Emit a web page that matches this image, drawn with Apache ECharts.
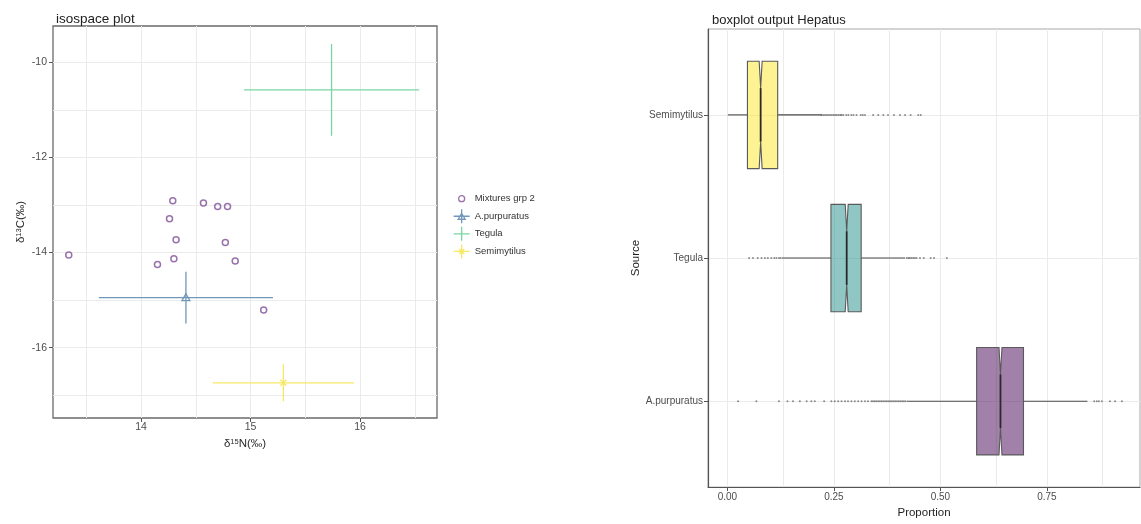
<!DOCTYPE html>
<html>
<head>
<meta charset="utf-8">
<script src="https://cdn.jsdelivr.net/npm/echarts@6/dist/echarts.min.js"></script>
<style>
  html, body { margin: 0; padding: 0; background: #fff; }
  #chart { width: 1141px; height: 524px; }
</style>
</head>
<body>
<div id="chart"></div>
<script>
// ---- isospace plot: consumer mixtures (δ15N, δ13C) ----
const mixN = [13.34, 14.29, 14.57, 14.70, 14.79, 14.26, 14.32, 14.77, 14.30, 14.15, 14.86, 15.12];
const mixC = [-14.05, -12.91, -12.96, -13.03, -13.03, -13.29, -13.73, -13.79, -14.13, -14.25, -14.18, -15.21];

// source means and standard deviations
const sourceNames = ['A.purpuratus', 'Tegula', 'Semimytilus'];
const srcMeanN = [14.41, 15.74, 15.30];
const srcSdN = [0.795, 0.80, 0.645];
const srcMeanC = [-14.95, -10.58, -16.74];
const srcSdC = [0.545, 0.965, 0.39];

// isospace axes
const isoXTicks = [14, 15, 16];
const isoXMinor = [13.5, 14.5, 15.5, 16.5];
const isoYTicks = [-16, -14, -12, -10];
const isoYMinor = [-17, -15, -13, -11];

// ---- boxplot of posterior proportions (Hepatus) ----
const boxSources = ['A.purpuratus', 'Tegula', 'Semimytilus'];
const boxLow = [0.421, 0.128, 0.001];
const boxQ1 = [0.585, 0.243, 0.047];
const boxMed = [0.641, 0.280, 0.078];
const boxQ3 = [0.695, 0.314, 0.118];
const boxHigh = [0.845, 0.417, 0.221];

const outApurpuratus = [0.025, 0.068, 0.121, 0.141, 0.154, 0.170, 0.186, 0.197, 0.205, 0.227,
  0.244, 0.252, 0.260, 0.268, 0.276, 0.283, 0.291, 0.299, 0.307, 0.315, 0.323, 0.330,
  0.338, 0.342, 0.346, 0.350, 0.354, 0.358, 0.362, 0.366, 0.370, 0.374, 0.378, 0.382,
  0.386, 0.390, 0.394, 0.398, 0.402, 0.406, 0.410, 0.414, 0.418,
  0.861, 0.867, 0.872, 0.879, 0.898, 0.910, 0.926];
const outTegula = [0.051, 0.060, 0.071, 0.080, 0.088, 0.095, 0.103, 0.110, 0.115, 0.121, 0.125,
  0.421, 0.425, 0.428, 0.432, 0.436, 0.440, 0.444, 0.452, 0.461, 0.477, 0.485, 0.515];
const outSemimytilus = [0.221, 0.225, 0.229, 0.233, 0.237, 0.241, 0.245, 0.249, 0.253, 0.257,
  0.261, 0.265, 0.268, 0.272, 0.279, 0.284, 0.291, 0.296, 0.303, 0.313, 0.318, 0.323,
  0.342, 0.354, 0.366, 0.377, 0.391, 0.405, 0.417, 0.430, 0.448, 0.454];

const propTicks = [0, 0.25, 0.5, 0.75];
const propMinor = [0.125, 0.375, 0.625, 0.875];

// ---- styling ----
const FONT = 'Liberation Sans, Arial, sans-serif';
const mixColor = '#7e5096';
const srcColors = ['#7297b9', '#78d6a2', '#f7e864'];
const boxFill = ['rgba(68,1,84,0.5)', 'rgba(33,144,140,0.5)', 'rgba(253,231,37,0.5)'];
const gridColor = '#ebebeb';
const tickText = { color: '#4d4d4d', fontSize: 10, fontFamily: FONT };

const chart = echarts.init(document.getElementById('chart'), null, { renderer: 'canvas' });

// error-cross renderer for isotope sources
function crossRenderer(markerType) {
  return function (params, api) {
    const mx = api.value(0), my = api.value(1), sx = api.value(2), sy = api.value(3);
    const c = api.coord([mx, my]);
    const l = api.coord([mx - sx, my]), r = api.coord([mx + sx, my]);
    const t = api.coord([mx, my + sy]), b = api.coord([mx, my - sy]);
    const col = api.visual('color');
    const st = { stroke: col, lineWidth: 1.3, fill: null };
    const children = [
      { type: 'line', shape: { x1: l[0], y1: l[1], x2: r[0], y2: r[1] }, style: st },
      { type: 'line', shape: { x1: t[0], y1: t[1], x2: b[0], y2: b[1] }, style: st }
    ];
    if (markerType === 'triangle') {
      children.push({ type: 'polygon', shape: { points: [[c[0], c[1] - 4], [c[0] + 4, c[1] + 3], [c[0] - 4, c[1] + 3]] },
        style: { stroke: col, lineWidth: 1.3, fill: 'rgba(0,0,0,0)' } });
    } else if (markerType === 'star') {
      children.push({ type: 'line', shape: { x1: c[0] - 3, y1: c[1] - 3, x2: c[0] + 3, y2: c[1] + 3 }, style: st });
      children.push({ type: 'line', shape: { x1: c[0] + 3, y1: c[1] - 3, x2: c[0] - 3, y2: c[1] + 3 }, style: st });
    }
    return { type: 'group', children: children };
  };
}

// notched box renderer
const notchHalf = 0.0035;
const boxHeight = 0.75;
function boxRenderer(params, api) {
  const y = api.value(0);
  const lo = api.value(1), q1 = api.value(2), md = api.value(3), q3 = api.value(4), hi = api.value(5);
  const top = y + boxHeight / 2, bot = y - boxHeight / 2;
  const nTop = y + boxHeight / 4, nBot = y - boxHeight / 4;
  const P = (vx, vy) => api.coord([vx, vy]);
  const idx = params.dataIndex;
  const edge = { stroke: '#5a5a5a', lineWidth: 1.1 };
  const pts = [
    P(q1, top), P(md - notchHalf, top), P(md, nTop), P(md + notchHalf, top), P(q3, top),
    P(q3, bot), P(md + notchHalf, bot), P(md, nBot), P(md - notchHalf, bot), P(q1, bot)
  ];
  const wl = P(lo, y), w1 = P(q1, y), w3 = P(q3, y), wh = P(hi, y);
  const m1 = P(md, nTop), m2 = P(md, nBot);
  return {
    type: 'group',
    children: [
      { type: 'line', shape: { x1: wl[0], y1: wl[1], x2: w1[0], y2: w1[1] }, style: { stroke: '#4a4a4a', lineWidth: 1.1 } },
      { type: 'line', shape: { x1: w3[0], y1: w3[1], x2: wh[0], y2: wh[1] }, style: { stroke: '#4a4a4a', lineWidth: 1.1 } },
      { type: 'polygon', shape: { points: pts }, style: Object.assign({ fill: boxFill[idx] }, edge) },
      { type: 'line', shape: { x1: m1[0], y1: m1[1], x2: m2[0], y2: m2[1] }, style: { stroke: '#2a2a2a', lineWidth: 1.8 } }
    ]
  };
}

const boxData = boxSources.map((s, i) => [i + 1, boxLow[i], boxQ1[i], boxMed[i], boxQ3[i], boxHigh[i]]);
const outlierData = []
  .concat(outApurpuratus.map(v => [v, 1]))
  .concat(outTegula.map(v => [v, 2]))
  .concat(outSemimytilus.map(v => [v, 3]));

const supRich = {
  a: { fontSize: 11.5, color: '#2b2b2b', fontFamily: FONT },
  s: { fontSize: 7.5, color: '#2b2b2b', fontFamily: FONT, verticalAlign: 'top' }
};

// light minor grid lines, drawn beneath the data
function minorGrid(xi, yi, xs, ys) {
  return {
    name: 'minor-grid-' + xi, type: 'line', xAxisIndex: xi, yAxisIndex: yi,
    data: [], z: 0, silent: true,
    markLine: {
      z: 0, silent: true, symbol: ['none', 'none'], label: { show: false },
      lineStyle: { color: gridColor, width: 1, type: 'solid' },
      emphasis: { disabled: true },
      data: xs.map(v => ({ xAxis: v })).concat(ys.map(v => ({ yAxis: v })))
    }
  };
}

const option = {
  animation: false,
  backgroundColor: '#fff',
  textStyle: { fontFamily: FONT },
  title: [
    { text: 'isospace plot', left: 51, top: 7, textStyle: { fontSize: 13.5, fontWeight: 'normal', color: '#222', fontFamily: FONT } },
    { text: 'boxplot output Hepatus', left: 707, top: 9, textStyle: { fontSize: 13, fontWeight: 'normal', color: '#222', fontFamily: FONT } }
  ],
  legend: {
    orient: 'vertical',
    left: 453, top: 191,
    itemWidth: 16, itemHeight: 14, itemGap: 2.3,
    padding: 0,
    selectedMode: false,
    textStyle: { fontSize: 9.5, color: '#333', fontFamily: FONT },
    data: [
      { name: 'Mixtures grp 2', icon: 'path://M0,0M16,14M11,7A3,3,0,1,1,5,7A3,3,0,1,1,11,7Z',
        itemStyle: { color: 'rgba(0,0,0,0)', borderColor: mixColor, borderWidth: 1.3 } },
      { name: 'A.purpuratus', icon: 'path://M0,7L16,7M8,0L8,14M8,4L11.5,10L4.5,10Z',
        itemStyle: { color: 'rgba(0,0,0,0)', borderColor: srcColors[0], borderWidth: 1.3 } },
      { name: 'Tegula', icon: 'path://M0,7L16,7M8,0L8,14',
        itemStyle: { color: 'rgba(0,0,0,0)', borderColor: srcColors[1], borderWidth: 1.3 } },
      { name: 'Semimytilus', icon: 'path://M0,7L16,7M8,0L8,14M5.5,4.5L10.5,9.5M10.5,4.5L5.5,9.5',
        itemStyle: { color: 'rgba(0,0,0,0)', borderColor: srcColors[2], borderWidth: 1.3 } }
    ]
  },
  grid: [
    { left: 53, top: 26, width: 384, height: 392, show: true, borderColor: '#6a6a6a', borderWidth: 1.3, backgroundColor: 'rgba(0,0,0,0)' },
    { left: 708, top: 29, width: 432, height: 460, show: true, borderColor: '#a8a8a8', borderWidth: 1, backgroundColor: 'rgba(0,0,0,0)' }
  ],
  xAxis: [
    { // isospace δ15N
      type: 'value', gridIndex: 0, min: 13.196, max: 16.703,
      name: '{a|δ}{s|15}{a|N(‰)}', nameLocation: 'middle', nameGap: 17,
      nameTextStyle: { rich: supRich },
      axisLine: { show: false },
      axisTick: { show: true, length: 4, lineStyle: { color: '#555' }, customValues: isoXTicks },
      axisLabel: { ...tickText, fontSize: 10.5, margin: 4, customValues: isoXTicks, formatter: v => String(v) },
      splitLine: { show: true, lineStyle: { color: gridColor, width: 1 } }
    },
    { // proportion
      type: 'value', gridIndex: 1, min: -0.0456, max: 0.9685,
      name: 'Proportion', nameLocation: 'middle', nameGap: 18,
      nameTextStyle: { fontSize: 11.5, color: '#1f1f1f', fontFamily: FONT },
      axisLine: { show: true, onZero: false, lineStyle: { color: '#555', width: 1.2 } },
      axisTick: { show: true, length: 4, lineStyle: { color: '#555' }, customValues: propTicks },
      axisLabel: { ...tickText, margin: 5, customValues: propTicks, formatter: v => v.toFixed(2) },
      splitLine: { show: true, lineStyle: { color: gridColor, width: 1 } }
    }
  ],
  yAxis: [
    { // isospace δ13C
      type: 'value', gridIndex: 0, min: -17.48, max: -9.236,
      name: '{a|δ}{s|13}{a|C(‰)}', nameLocation: 'middle', nameGap: 26,
      nameTextStyle: { rich: supRich },
      axisLine: { show: false },
      axisTick: { show: true, length: 4, lineStyle: { color: '#555' }, customValues: isoYTicks },
      axisLabel: { ...tickText, fontSize: 10.5, margin: 6, customValues: isoYTicks, formatter: v => String(v) },
      splitLine: { show: true, lineStyle: { color: gridColor, width: 1 } }
    },
    { // source categories on a numeric scale (1..3, padded by 0.6)
      type: 'value', gridIndex: 1, min: 0.4, max: 3.6,
      name: 'Source', nameLocation: 'middle', nameGap: 63,
      nameTextStyle: { fontSize: 11.5, color: '#1f1f1f', fontFamily: FONT },
      axisLine: { show: true, onZero: false, lineStyle: { color: '#555', width: 1.2 } },
      axisTick: { show: true, length: 4, lineStyle: { color: '#555' }, customValues: [1, 2, 3] },
      axisLabel: { ...tickText, margin: 5, customValues: [1, 2, 3], formatter: v => boxSources[Math.round(v) - 1] },
      splitLine: { show: true, lineStyle: { color: gridColor, width: 1 } }
    }
  ],
  series: [
    minorGrid(0, 0, isoXMinor, isoYMinor),
    minorGrid(1, 1, propMinor, []),
    {
      name: 'Mixtures grp 2', type: 'scatter', xAxisIndex: 0, yAxisIndex: 0,
      symbol: 'circle', symbolSize: 6, z: 4,
      itemStyle: { color: 'rgba(0,0,0,0)', borderColor: mixColor, borderWidth: 1.5 },
      data: mixN.map((n, i) => [n, mixC[i]])
    },
    ...sourceNames.map((s, i) => ({
      name: s, type: 'custom', xAxisIndex: 0, yAxisIndex: 0, z: 3,
      itemStyle: { color: srcColors[i] },
      renderItem: crossRenderer(['triangle', 'plus', 'star'][i]),
      data: [[srcMeanN[i], srcMeanC[i], srcSdN[i], srcSdC[i]]]
    })),
    {
      name: 'box', type: 'custom', xAxisIndex: 1, yAxisIndex: 1, z: 3,
      renderItem: boxRenderer,
      encode: { x: [1, 2, 3, 4, 5], y: 0 },
      data: boxData
    },
    {
      name: 'outliers', type: 'scatter', xAxisIndex: 1, yAxisIndex: 1,
      symbol: 'circle', symbolSize: 2,
      itemStyle: { color: 'rgba(40,40,40,0.65)' },
      data: outlierData, z: 4
    }
  ]
};

chart.setOption(option);
</script>
</body>
</html>
